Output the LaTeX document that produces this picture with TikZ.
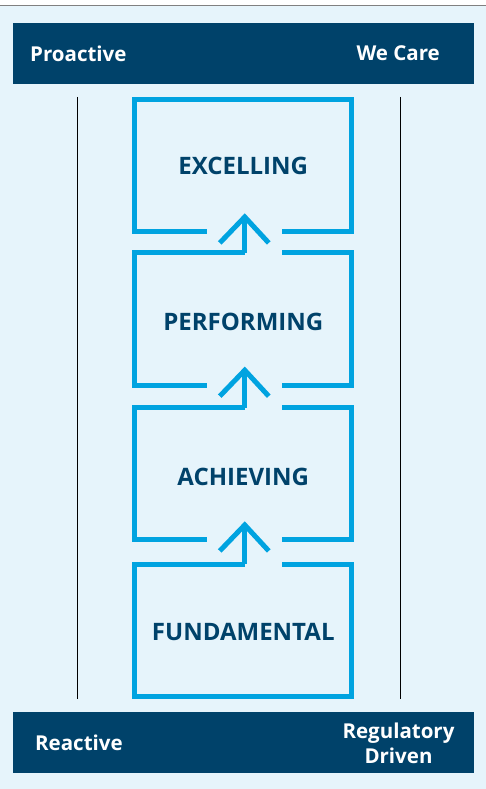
\documentclass[tikz,border=0pt]{standalone}
\usepackage{fontspec}
\setmainfont{Open Sans}
\definecolor{navy}{HTML}{00426A}
\definecolor{sky}{HTML}{00A3E0}
\definecolor{pale}{HTML}{E6F4FB}
\tikzset{
  band/.style={rectangle,fill=navy,minimum width=461pt,minimum height=61pt,inner sep=0pt},
  tag/.style={font=\bfseries\fontsize{20.5}{25}\selectfont,text=white,inner sep=0pt},
  lvl/.style={rectangle,minimum width=216.5pt,minimum height=132pt,inner sep=0pt,
    font=\bfseries\fontsize{24}{28}\selectfont,text=navy},
  edge/.style={draw=sky,line width=5pt},
}

\begin{document}
\begin{tikzpicture}[x=1pt,y=-1pt]
\useasboundingbox (0,0) rectangle (486,789);
\fill[pale] (0,6) rectangle (486,789);
\draw[gray,line width=1.5pt] (0,5.5)--(486,5.5);

% bands
\node (top) at (243.5,53.5)[band]{};
\node (bottom) at (243.5,742.5)[band]{};
\node (proactive) at (30,53.5)[tag,anchor=west]{Proactive};
\node (wecare) at (440,53.5)[tag,anchor=east]{We Care};
\node (reactive) at (35,743)[tag,anchor=west]{Reactive};
\node (regulatory) at (398.5,743)[tag,align=center]{Regulatory\\Driven};

% side lines
\draw[black,line width=1pt] (77,97)--(77,699);
\draw[black,line width=1pt] (400,97)--(400,699);

% levels
\node (b1) at (243.25,165.75)[lvl]{EXCELLING};
\node (b2) at (243.25,319)[lvl,text height=23pt]{PERFORMING};
\node (b3) at (243.25,473.75)[lvl,text height=23pt]{ACHIEVING};
\node (b4) at (243.25,630.25)[lvl,text height=20pt]{FUNDAMENTAL};

\draw[edge]([xshift=72pt]b1.south west)--(b1.south west)--(b1.north west)--(b1.north east)
  --(b1.south east)--([xshift=-69.5pt]b1.south east);
\foreach \b in {b2,b3}{
  \draw[edge]([xshift=1.5pt]\b.north)--(\b.north west)--(\b.south west)--([xshift=72pt]\b.south west);
  \draw[edge]([xshift=-69.5pt]\b.north east)--(\b.north east)--(\b.south east)--([xshift=-69.5pt]\b.south east);
}
\draw[edge]([xshift=1.5pt]b4.north)--(b4.north west)--(b4.south west)--(b4.south east)
  --(b4.north east)--([xshift=-69.5pt]b4.north east);

% arrows
\foreach \lo/\up in {b2/b1,b3/b2,b4/b3}{
  \coordinate (tip) at ([xshift=1.5pt,yshift=15pt]\up.south);
  \draw[edge]([xshift=1.5pt]\lo.north)--(tip);
  \draw[edge]([shift={(-25pt,-26pt)}]tip)--(tip)--([shift={(24pt,-26pt)}]tip);
}
\end{tikzpicture}
\end{document}
